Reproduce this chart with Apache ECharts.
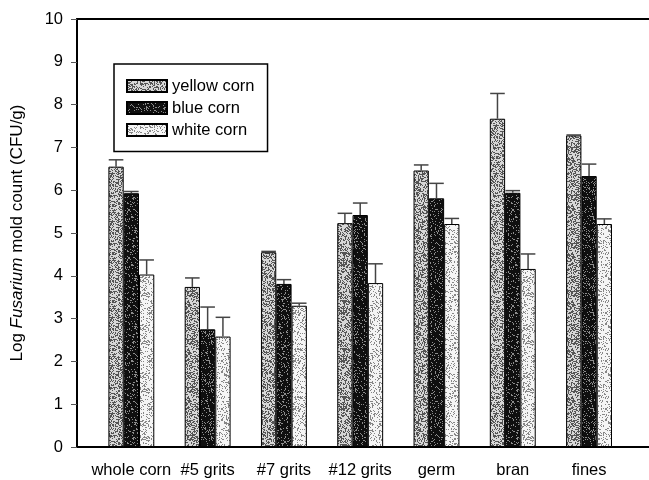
<!DOCTYPE html>
<html>
<head>
<meta charset="utf-8">
<script src="https://cdn.jsdelivr.net/npm/echarts@6/dist/echarts.min.js"></script>
<style>
  html, body { margin: 0; padding: 0; background: #fff; }
  #main { width: 649px; height: 480px; }
</style>
</head>
<body>
<div id="main"></div>
<script>
var categories = ['whole corn', '#5 grits', '#7 grits', '#12 grits', 'germ', 'bran', 'fines'];
var seriesNames = ['yellow corn', 'blue corn', 'white corn'];
var yellowMean = [6.55, 3.74, 4.55, 5.23, 6.46, 7.67, 7.28];
var yellowErr  = [6.71, 3.95, 4.57, 5.46, 6.59, 8.26, 7.29];
var blueMean   = [5.93, 2.75, 3.81, 5.42, 5.81, 5.94, 6.33];
var blueErr    = [5.97, 3.27, 3.91, 5.70, 6.16, 5.99, 6.61];
var whiteMean  = [4.03, 2.58, 3.30, 3.83, 5.21, 4.16, 5.21];
var whiteErr   = [4.37, 3.03, 3.36, 4.28, 5.34, 4.51, 5.33];

var BAR_W = 15.3;
var FONT = '"Liberation Sans", Arial, sans-serif';
var FS = 16.5;

// stippled fill like the printed figure (deterministic hash noise, texture only)
function stipple(light, dark, darkShare) {
    var c = document.createElement('canvas');
    c.width = 48; c.height = 48;
    var ctx = c.getContext('2d');
    var img = ctx.createImageData(48, 48);
    for (var j = 0; j < 48; j++) {
        for (var i = 0; i < 48; i++) {
            var h = Math.sin(i * 12.9898 + j * 78.233) * 43758.5453;
            h = h - Math.floor(h);
            var g = h < darkShare ? dark : light;
            var k = (j * 48 + i) * 4;
            img.data[k] = g; img.data[k + 1] = g; img.data[k + 2] = g; img.data[k + 3] = 255;
        }
    }
    ctx.putImageData(img, 0, 0);
    return { image: c, repeat: 'repeat' };
}

var fills = [stipple(215, 85, 0.45), stipple(140, 15, 0.85), stipple(245, 135, 0.25)];
var means = [yellowMean, blueMean, whiteMean];
var errs = [yellowErr, blueErr, whiteErr];

var chartDom = document.getElementById('main');
var myChart = echarts.init(chartDom);
var option;

var series = [];
seriesNames.forEach(function (name, s) {
    series.push({
        name: name,
        type: 'bar',
        xAxisIndex: 2,
        yAxisIndex: 1,
        barWidth: BAR_W,
        barGap: '0%',
        itemStyle: { color: fills[s], borderColor: '#000', borderWidth: 1 },
        data: means[s]
    });
});
seriesNames.forEach(function (name, s) {
    series.push({
        type: 'custom',
        xAxisIndex: 2,
        yAxisIndex: 1,
        z: 5,
        silent: true,
        data: categories.map(function (c, i) { return [i, means[s][i], errs[s][i]]; }),
        renderItem: function (params, api) {
            var base = api.coord([api.value(0), api.value(1)]);
            var top = api.coord([api.value(0), api.value(2)]);
            var x = base[0] + (s - 1) * BAR_W;
            var half = 7.3;
            return {
                type: 'group',
                children: [
                    { type: 'line', shape: { x1: x, y1: base[1], x2: x, y2: top[1] },
                      style: { stroke: '#444', lineWidth: 1.5 } },
                    { type: 'line', shape: { x1: x - half, y1: top[1], x2: x + half, y2: top[1] },
                      style: { stroke: '#444', lineWidth: 1.5 } }
                ]
            };
        }
    });
});

option = {
    backgroundColor: '#fff',
    animation: false,
    textStyle: { fontFamily: FONT },
    grid: [
        { left: 77, right: 0, top: 19, bottom: 33 },
        { left: 93.2, width: 534, top: 19, bottom: 33 }
    ],
    legend: {
        orient: 'vertical',
        left: 114,
        top: 64,
        data: seriesNames,
        icon: 'rect',
        itemWidth: 40,
        itemHeight: 12,
        itemGap: 5,
        padding: [13.5, 13, 13, 12],
        borderColor: '#000',
        borderWidth: 1.5,
        backgroundColor: '#fff',
        textStyle: { fontSize: FS, color: '#000', fontFamily: FONT, lineHeight: 16.5 }
    },
    xAxis: [
        {
            gridIndex: 0, type: 'value', min: 0, max: 1, position: 'bottom',
            axisLine: { lineStyle: { color: '#000', width: 2 } },
            axisTick: { show: false }, axisLabel: { show: false }, splitLine: { show: false }
        },
        {
            gridIndex: 0, type: 'value', min: 0, max: 1, position: 'top',
            axisLine: { lineStyle: { color: '#000', width: 2 } },
            axisTick: { show: false }, axisLabel: { show: false }, splitLine: { show: false }
        },
        {
            gridIndex: 1, type: 'category', data: categories,
            axisLine: { show: false }, axisTick: { show: false },
            axisLabel: { color: '#000', fontSize: FS, margin: 15, fontFamily: FONT, interval: 0 }
        }
    ],
    yAxis: [
        {
            gridIndex: 0, type: 'value', min: 0, max: 10, interval: 1,
            name: 'Log {i|Fusarium} mold count (CFU/g)',
            nameLocation: 'middle',
            nameGap: 51,
            nameTextStyle: {
                color: '#000', fontSize: 17, fontFamily: FONT,
                rich: { i: { fontStyle: 'italic', fontSize: 17, color: '#000', fontFamily: FONT } }
            },
            axisLine: { show: true, lineStyle: { color: '#000', width: 2 } },
            axisTick: { show: true, length: 6, lineStyle: { color: '#555' } },
            axisLabel: { color: '#000', fontSize: FS, margin: 14, fontFamily: FONT },
            splitLine: { show: false }
        },
        {
            gridIndex: 1, type: 'value', min: 0, max: 10, show: false
        }
    ],
    series: series
};

option && myChart.setOption(option);
window.addEventListener("resize", function () {
    myChart.resize();
});
</script>
</body>
</html>
